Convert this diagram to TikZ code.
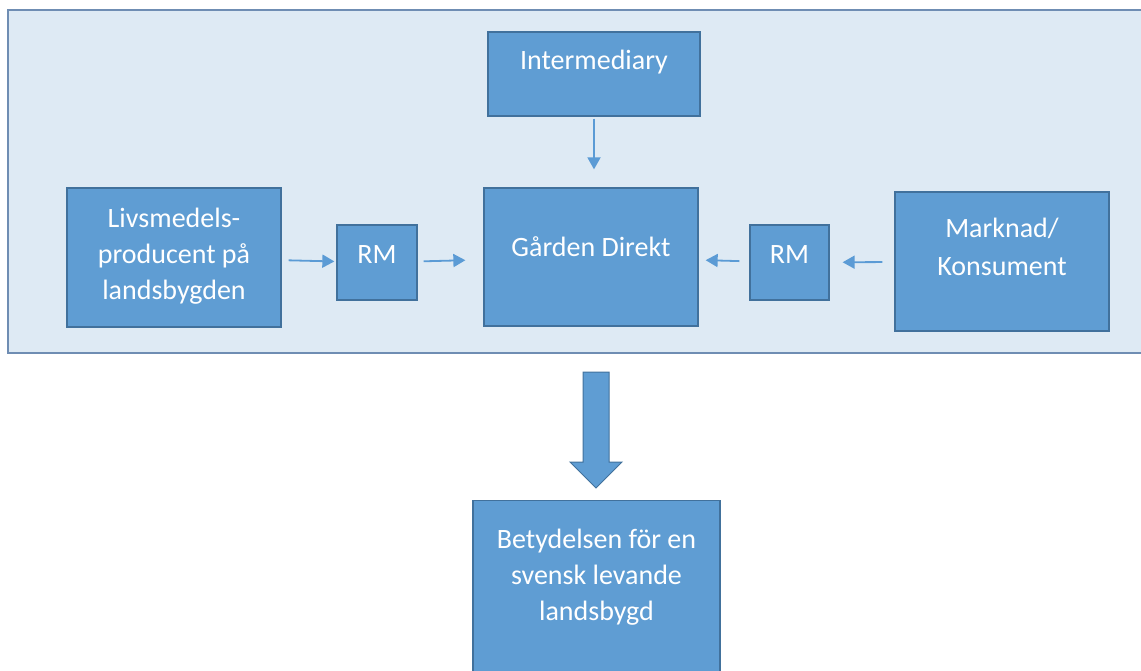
\documentclass[tikz,border=0pt]{standalone}
\usepackage{fontspec}
\setmainfont{Carlito}
\usetikzlibrary{arrows.meta, positioning, calc}

\definecolor{boxblue}{HTML}{5F9DD3}
\definecolor{boxline}{HTML}{41719C}
\definecolor{bgblue}{HTML}{DEEAF4}
\definecolor{bgline}{HTML}{6F8DB3}
\definecolor{arrblue}{HTML}{5B9BD5}

\begin{document}
\begin{tikzpicture}[x=1pt, y=-1pt,
    blok/.style={draw=boxline, line width=1.3pt, fill=boxblue, text=white,
      align=center, font=\fontsize{28}{36}\selectfont, inner sep=0pt,
      execute at end node={\rule[-#1]{0pt}{0pt}}},
    blok/.default=20pt,
    pil/.style={arrblue, line width=1.8pt, -{Triangle[length=12pt, width=13pt]}}]
  \clip (0, 0) rectangle (1141, 670);
  % ramen
  \draw[fill=bgblue, draw=bgline, line width=1.5pt] (8, 10) rectangle (1160, 353);
  \node[blok=28pt, minimum width=212, minimum height=84] (inter) at (594, 74) {Intermediary};
  \node[blok=8pt, minimum width=214, minimum height=139] (livs) at (174, 257.5) {Livsmedels-\\producent på\\landsbygden};
  \node[blok=15pt, minimum width=80, minimum height=75] (rml) at (377, 262.5) {RM};
  \node[blok=20pt, minimum width=214, minimum height=138] (gd) at (591, 257) {Gården Direkt};
  \node[blok=15pt, minimum width=79, minimum height=75] (rmr) at (789.5, 262.5) {RM};
  \node[blok=30pt, minimum width=214, minimum height=139,
    font=\fontsize{28}{38}\selectfont] (mark) at (1002, 261.5) {Marknad/\\Konsument};
  \node[blok=70pt, anchor=north, minimum width=247, inner ysep=28pt]
    (betyd) at (596.5, 500) {Betydelsen för en\\svensk levande\\landsbygd};
  \draw[pil, shorten <=2pt, shorten >=18pt] (inter.south) -- (inter.south |- gd.north);
  \draw[pil, shorten <=7pt, shorten >=2pt] (livs) -- (rml);
  \draw[pil, shorten <=6pt, shorten >=18pt] (rml) -- (gd);
  \draw[pil, shorten <=10pt, shorten >=7pt] (rmr) -- (gd);
  \draw[pil, shorten <=12pt, shorten >=13pt] (mark) -- (rmr);
  % stora pilen
  \draw[fill=boxblue, draw=boxline, line width=1pt]
    (583, 372) -- (609, 372) -- (609, 462) -- (622, 462) -- (596, 488)
    -- (570, 462) -- (583, 462) -- cycle;
\end{tikzpicture}
\end{document}
